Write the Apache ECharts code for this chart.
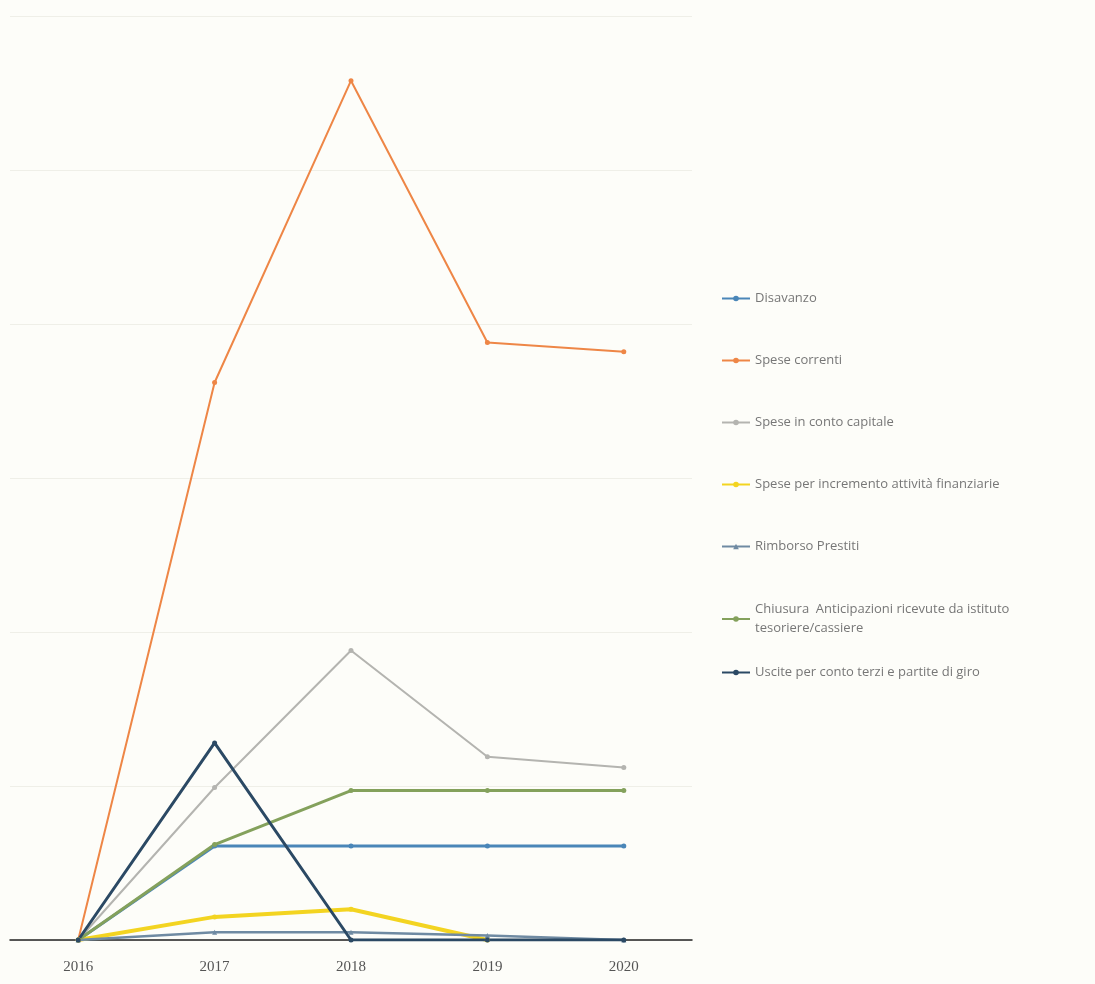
<!DOCTYPE html>
<html>
<head>
<meta charset="utf-8">
<script src="https://cdn.jsdelivr.net/npm/echarts@6/dist/echarts.min.js"></script>
<style>
  html, body { margin: 0; padding: 0; background: #fdfdf9; }
  #main { width: 1095px; height: 984px; }
</style>
</head>
<body>
<div id="main"></div>
<script>
// anni
const years = ["2016", "2017", "2018", "2019", "2020"];

// valori (unita' = una linea di griglia)
const disavanzo = [0, 0.61, 0.61, 0.61, 0.61];
const speseCorrenti = [0, 3.62, 5.58, 3.88, 3.82];
const speseContoCapitale = [0, 0.99, 1.88, 1.19, 1.12];
const speseIncremento = [0, 0.15, 0.2, 0, null];
const rimborsoPrestiti = [0, 0.05, 0.05, 0.03, 0];
const chiusuraAnticipazioni = [0, 0.62, 0.97, 0.97, 0.97];
const uscitePartiteGiro = [0, 1.28, 0, 0, 0];

const names = [
  "Disavanzo",
  "Spese correnti",
  "Spese in conto capitale",
  "Spese per incremento attività finanziarie",
  "Rimborso Prestiti",
  "Chiusura  Anticipazioni ricevute da istituto tesoriere/cassiere",
  "Uscite per conto terzi e partite di giro",
];

const chart = echarts.init(document.getElementById("main"));

const legendText = {
  fontFamily: "Open Sans",
  fontSize: 13,
  color: "#777",
};

function line(name, data, color, width, symbol) {
  return {
    name,
    type: "line",
    data,
    symbol: symbol || "circle",
    symbolSize: 5,
    showSymbol: true,
    lineStyle: { color, width },
    itemStyle: { color },
    animation: false,
  };
}

const options = {
  backgroundColor: "#fdfdf9",
  grid: { left: 10, right: 403, top: 16, bottom: 44 },
  xAxis: {
    type: "category",
    data: years,
    boundaryGap: true,
    axisLine: { lineStyle: { color: "#222", width: 1.5 } },
    axisTick: { show: false },
    axisLabel: {
      fontFamily: "Liberation Serif",
      fontSize: 15,
      color: "#555",
      margin: 20,
    },
  },
  yAxis: {
    type: "value",
    min: 0,
    max: 6,
    interval: 1,
    axisLabel: { show: false },
    axisLine: { show: false },
    axisTick: { show: false },
    splitLine: { lineStyle: { color: "#efefe8", width: 1 } },
  },
  legend: [
    {
      orient: "vertical",
      left: 716,
      top: 287,
      itemWidth: 28,
      itemHeight: 7,
      itemGap: 49,
      textStyle: legendText,
      data: names.slice(0, 5),
    },
    {
      orient: "vertical",
      left: 716,
      top: 595,
      itemWidth: 28,
      itemHeight: 7,
      textStyle: { ...legendText, lineHeight: 19 },
      formatter: () => "Chiusura  Anticipazioni ricevute da istituto\ntesoriere/cassiere",
      data: [names[5]],
    },
    {
      orient: "vertical",
      left: 716,
      top: 661,
      itemWidth: 28,
      itemHeight: 7,
      textStyle: legendText,
      data: [names[6]],
    },
  ],
  series: [
    line(names[0], disavanzo, "#4a86b8", 3),
    line(names[1], speseCorrenti, "#ee8646", 2),
    line(names[2], speseContoCapitale, "#b4b4b0", 2),
    line(names[3], speseIncremento, "#f3d421", 4),
    line(names[4], rimborsoPrestiti, "#6f8aa2", 2.5, "triangle"),
    line(names[5], chiusuraAnticipazioni, "#84a15c", 3),
    line(names[6], uscitePartiteGiro, "#2b4964", 3),
  ],
};

chart.setOption(options);
</script>
</body>
</html>
